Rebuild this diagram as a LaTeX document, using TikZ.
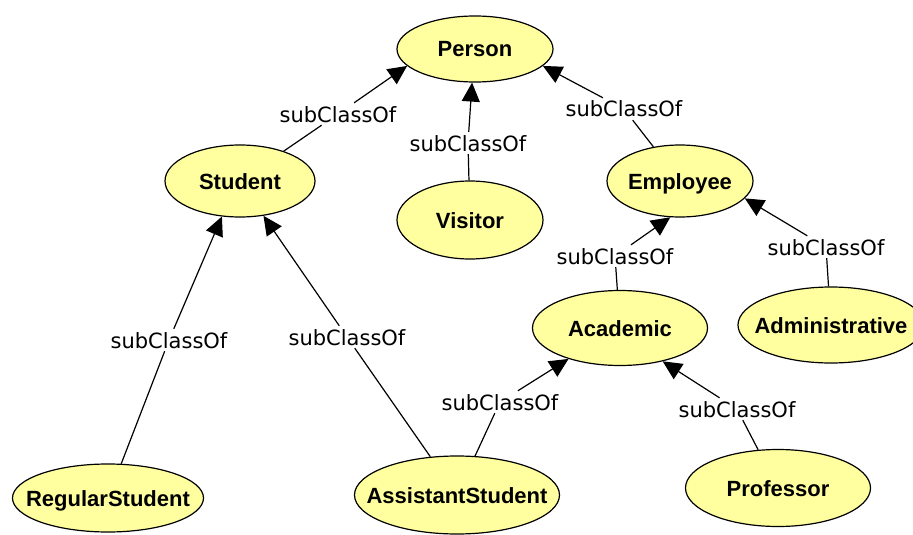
\documentclass[tikz,border=0pt]{standalone}
\usepackage{fontspec}
\setmainfont{DejaVu Sans}
\newfontfamily\classfont{Liberation Sans}
\usetikzlibrary{shapes.geometric,arrows.meta}

\definecolor{classfill}{RGB}{255,255,160}
% class names sit in a zero-width box so the ellipse size is set by hand
\newcommand{\cname}[1]{\makebox[0pt]{#1}}

\tikzset{
  owlclass/.style 2 args={ellipse, draw=black, fill=classfill, line width=1.2pt,
     minimum width=#1, minimum height=#2, inner sep=0pt,
     font=\classfont\bfseries\fontsize{22}{22}\selectfont,
     text height=16pt, text depth=0pt},
  rel/.style={font=\fontsize{21}{21}\selectfont, inner sep=3pt,
     text height=16pt, text depth=0pt},
  isa/.style={draw, line width=1.2pt, -{Triangle[length=19pt,width=18pt]}}
}

\begin{document}
\begin{tikzpicture}[x=1pt, y=-1pt]
    \useasboundingbox (0,0) rectangle (913,535);
    \clip (0,0) rectangle (913,535);

    % classes
    \node[owlclass={156pt}{66pt}] (per) at (475,49) {\cname{Person}};
    \node[owlclass={150pt}{72pt}] (stu) at (240,181) {\cname{Student}};
    \node[owlclass={146pt}{78pt}] (vis) at (470,220) {\cname{Visitor}};
    \node[owlclass={146pt}{72pt}] (emp) at (680,181) {\cname{Employee}};
    \node[owlclass={175pt}{75pt}] (aca) at (620,328) {\cname{Academic}};
    \node[owlclass={186pt}{76pt}] (adm) at (831,325) {\cname{Administrative}};
    \node[owlclass={191pt}{68pt}] (reg) at (108,498) {\cname{RegularStudent}};
    \node[owlclass={205pt}{78pt}] (ast) at (457,495) {\cname{AssistantStudent}};
    \node[owlclass={185pt}{77pt}] (pro) at (778,488) {\cname{Professor}};

    % edge labels
    \node[rel] (l1) at (338,114) {subClassOf};
    \node[rel] (l2) at (468,143) {subClassOf};
    \node[rel] (l3) at (624,109) {subClassOf};
    \node[rel] (l4) at (169,340) {subClassOf};
    \node[rel] (l5) at (347,337) {subClassOf};
    \node[rel] (l6) at (500,402) {subClassOf};
    \node[rel] (l7) at (615,256) {subClassOf};
    \node[rel] (l8) at (826,247) {subClassOf};
    \node[rel] (l9) at (737,409) {subClassOf};

    % subclass edges
    \draw[isa] (stu) -- (l1) -- (per.194);
    \draw[isa] (vis) -- (l2) -- (per.265);
    \draw[isa] (emp) -- (l3) -- (per.346);
    \draw[isa] (reg) -- (l4) -- (stu.243);
    \draw[isa] (ast) -- (l5) -- (stu.304);
    \draw[isa] (ast) -- (l6) -- (aca.211);
    \draw[isa] (aca) -- (l7) -- (emp.255);
    \draw[isa] (adm) -- (l8) -- (emp.345);
    \draw[isa] (pro) -- (l9) -- (aca.322);
\end{tikzpicture}
\end{document}
